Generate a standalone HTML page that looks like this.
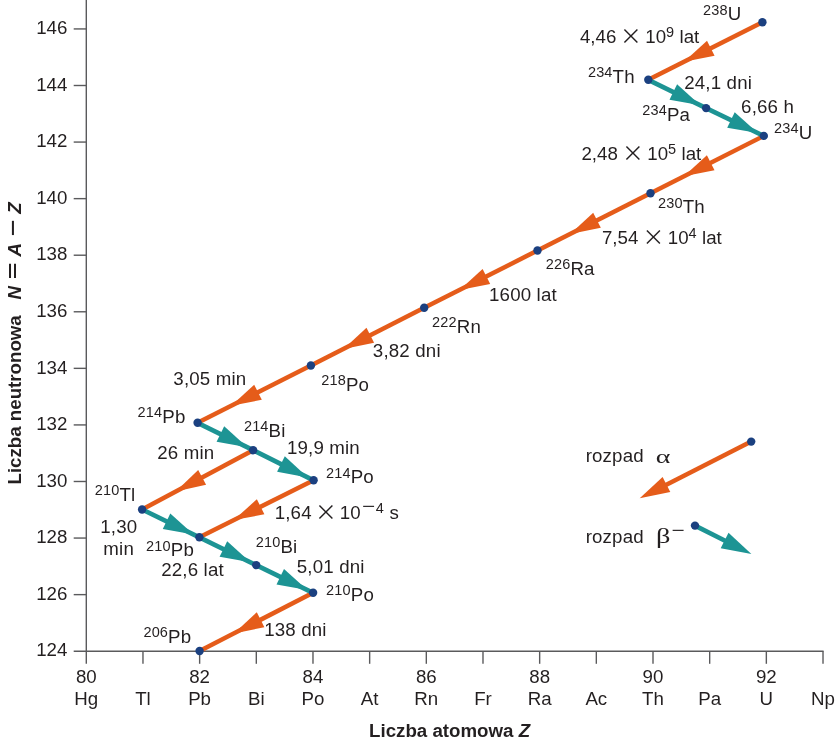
<!DOCTYPE html>
<html lang="pl"><head><meta charset="utf-8"><title>Szereg promieniotwórczy uranu-238</title>
<style>html,body{margin:0;padding:0;background:#fff;overflow:hidden}svg{display:block}text{font-family:"Liberation Sans",Arial,sans-serif}text.gr{font-family:"Liberation Serif","DejaVu Serif",serif}</style></head>
<body><svg width="835" height="744" viewBox="0 0 835 744">
<rect width="835" height="744" fill="#fff"/>
<g stroke="#5a5a5c" stroke-width="1.4" fill="none">
<line x1="86.3" y1="0" x2="86.3" y2="651.2"/>
<line x1="73.7" y1="651.2" x2="823.6" y2="651.2"/>
<line x1="86.30" y1="651.2" x2="86.30" y2="663.8"/>
<line x1="142.97" y1="651.2" x2="142.97" y2="663.8"/>
<line x1="199.64" y1="651.2" x2="199.64" y2="663.8"/>
<line x1="256.31" y1="651.2" x2="256.31" y2="663.8"/>
<line x1="312.98" y1="651.2" x2="312.98" y2="663.8"/>
<line x1="369.65" y1="651.2" x2="369.65" y2="663.8"/>
<line x1="426.32" y1="651.2" x2="426.32" y2="663.8"/>
<line x1="482.99" y1="651.2" x2="482.99" y2="663.8"/>
<line x1="539.66" y1="651.2" x2="539.66" y2="663.8"/>
<line x1="596.33" y1="651.2" x2="596.33" y2="663.8"/>
<line x1="653.00" y1="651.2" x2="653.00" y2="663.8"/>
<line x1="709.67" y1="651.2" x2="709.67" y2="663.8"/>
<line x1="766.34" y1="651.2" x2="766.34" y2="663.8"/>
<line x1="823.01" y1="651.2" x2="823.01" y2="663.8"/>
<line x1="73.7" y1="594.63" x2="86.3" y2="594.63"/>
<line x1="73.7" y1="538.06" x2="86.3" y2="538.06"/>
<line x1="73.7" y1="481.49" x2="86.3" y2="481.49"/>
<line x1="73.7" y1="424.92" x2="86.3" y2="424.92"/>
<line x1="73.7" y1="368.35" x2="86.3" y2="368.35"/>
<line x1="73.7" y1="311.78" x2="86.3" y2="311.78"/>
<line x1="73.7" y1="255.21" x2="86.3" y2="255.21"/>
<line x1="73.7" y1="198.64" x2="86.3" y2="198.64"/>
<line x1="73.7" y1="142.07" x2="86.3" y2="142.07"/>
<line x1="73.7" y1="85.50" x2="86.3" y2="85.50"/>
<line x1="73.7" y1="28.93" x2="86.3" y2="28.93"/>
</g>
<g font-size="18.7" fill="#231f20">
<text x="67.4" y="656.4" text-anchor="end">124</text>
<text x="67.4" y="599.8" text-anchor="end">126</text>
<text x="67.4" y="543.3" text-anchor="end">128</text>
<text x="67.4" y="486.7" text-anchor="end">130</text>
<text x="67.4" y="430.1" text-anchor="end">132</text>
<text x="67.4" y="373.6" text-anchor="end">134</text>
<text x="67.4" y="317.0" text-anchor="end">136</text>
<text x="67.4" y="260.4" text-anchor="end">138</text>
<text x="67.4" y="203.8" text-anchor="end">140</text>
<text x="67.4" y="147.3" text-anchor="end">142</text>
<text x="67.4" y="90.7" text-anchor="end">144</text>
<text x="67.4" y="34.1" text-anchor="end">146</text>
<text x="86.3" y="682.6" text-anchor="middle">80</text>
<text x="86.3" y="704.9" text-anchor="middle">Hg</text>
<text x="143.0" y="704.9" text-anchor="middle">Tl</text>
<text x="199.6" y="682.6" text-anchor="middle">82</text>
<text x="199.6" y="704.9" text-anchor="middle">Pb</text>
<text x="256.3" y="704.9" text-anchor="middle">Bi</text>
<text x="313.0" y="682.6" text-anchor="middle">84</text>
<text x="313.0" y="704.9" text-anchor="middle">Po</text>
<text x="369.7" y="704.9" text-anchor="middle">At</text>
<text x="426.3" y="682.6" text-anchor="middle">86</text>
<text x="426.3" y="704.9" text-anchor="middle">Rn</text>
<text x="483.0" y="704.9" text-anchor="middle">Fr</text>
<text x="539.7" y="682.6" text-anchor="middle">88</text>
<text x="539.7" y="704.9" text-anchor="middle">Ra</text>
<text x="596.3" y="704.9" text-anchor="middle">Ac</text>
<text x="653.0" y="682.6" text-anchor="middle">90</text>
<text x="653.0" y="704.9" text-anchor="middle">Th</text>
<text x="709.7" y="704.9" text-anchor="middle">Pa</text>
<text x="766.3" y="682.6" text-anchor="middle">92</text>
<text x="766.3" y="704.9" text-anchor="middle">U</text>
<text x="823.0" y="704.9" text-anchor="middle">Np</text>
</g>
<text x="369.1" y="736.8" font-size="18.7" font-weight="bold" fill="#231f20">Liczba atomowa <tspan font-style="italic">Z</tspan></text>
<g transform="translate(20.9,484.5) rotate(-90)" font-size="18.7" font-weight="bold" fill="#231f20"><text x="0" y="0">Liczba neutronowa</text><text x="185.0" y="0" font-style="italic">N</text><text transform="translate(206.3,-1.75) scale(1.52,1)" x="-0.75" y="0">=</text><text x="228.0" y="0" font-style="italic">A</text><text transform="translate(249.4,-1.65) scale(1.52,1)" x="-0.75" y="0">−</text><text x="270.8" y="0" font-style="italic">Z</text></g>
<line x1="762.4" y1="22.2" x2="648.3" y2="79.8" stroke="#e55c1a" stroke-width="4.5"/>
<line x1="763.8" y1="135.9" x2="650.5" y2="193.2" stroke="#e55c1a" stroke-width="4.5"/>
<line x1="650.5" y1="193.2" x2="537.5" y2="250.5" stroke="#e55c1a" stroke-width="4.5"/>
<line x1="537.5" y1="250.5" x2="424.2" y2="307.8" stroke="#e55c1a" stroke-width="4.5"/>
<line x1="424.2" y1="307.8" x2="310.9" y2="365.5" stroke="#e55c1a" stroke-width="4.5"/>
<line x1="310.9" y1="365.5" x2="197.6" y2="422.8" stroke="#e55c1a" stroke-width="4.5"/>
<line x1="253.1" y1="450.2" x2="142.1" y2="509.5" stroke="#e55c1a" stroke-width="4.5"/>
<line x1="313.6" y1="480.3" x2="199.4" y2="537.3" stroke="#e55c1a" stroke-width="4.5"/>
<line x1="313.1" y1="592.8" x2="199.6" y2="651.0" stroke="#e55c1a" stroke-width="4.5"/>
<line x1="648.3" y1="79.8" x2="706.1" y2="108.1" stroke="#1d9494" stroke-width="4.7"/>
<line x1="706.1" y1="108.1" x2="763.8" y2="135.9" stroke="#1d9494" stroke-width="4.7"/>
<line x1="197.6" y1="422.8" x2="253.1" y2="450.2" stroke="#1d9494" stroke-width="4.7"/>
<line x1="253.1" y1="450.2" x2="313.6" y2="480.3" stroke="#1d9494" stroke-width="4.7"/>
<line x1="142.1" y1="509.5" x2="199.4" y2="537.3" stroke="#1d9494" stroke-width="4.7"/>
<line x1="199.4" y1="537.3" x2="256.2" y2="565.1" stroke="#1d9494" stroke-width="4.7"/>
<line x1="256.2" y1="565.1" x2="313.1" y2="592.8" stroke="#1d9494" stroke-width="4.7"/>
<polygon points="684.0,61.8 707.0,40.7 714.6,55.7" fill="#e55c1a"/>
<polygon points="683.9,176.3 706.9,155.3 714.5,170.2" fill="#e55c1a"/>
<polygon points="570.2,233.9 593.2,212.8 600.8,227.8" fill="#e55c1a"/>
<polygon points="459.6,289.9 482.6,268.9 490.2,283.9" fill="#e55c1a"/>
<polygon points="343.6,348.9 366.5,327.8 374.1,342.7" fill="#e55c1a"/>
<polygon points="231.2,405.8 254.2,384.8 261.8,399.8" fill="#e55c1a"/>
<polygon points="175.7,491.6 198.2,470.0 206.1,484.8" fill="#e55c1a"/>
<polygon points="233.8,520.1 256.9,499.2 264.4,514.3" fill="#e55c1a"/>
<polygon points="233.9,633.4 256.8,612.2 264.4,627.2" fill="#e55c1a"/>
<polygon points="700.3,105.2 669.5,99.8 677.1,84.3" fill="#1d9494"/>
<polygon points="757.9,133.1 727.2,127.8 734.7,112.3" fill="#1d9494"/>
<polygon points="247.3,447.3 216.6,441.8 224.2,426.3" fill="#1d9494"/>
<polygon points="307.8,477.4 277.1,471.7 284.8,456.3" fill="#1d9494"/>
<polygon points="193.6,534.5 162.8,529.1 170.3,513.6" fill="#1d9494"/>
<polygon points="250.4,562.2 219.6,556.8 227.2,541.3" fill="#1d9494"/>
<polygon points="307.3,590.0 276.5,584.6 284.0,569.1" fill="#1d9494"/>
<line x1="751.2" y1="441.6" x2="657.533831987474" y2="489.14713102698636" stroke="#e55c1a" stroke-width="4.5"/>
<polygon points="639.7,498.2 662.6,477.1 670.3,492.1" fill="#e55c1a"/>
<line x1="695" y1="525.6" x2="733.5368657373647" y2="545.0050884209425" stroke="#1d9494" stroke-width="4.7"/>
<polygon points="751.4,554.0 720.7,548.2 728.5,532.8" fill="#1d9494"/>
<circle cx="762.4" cy="22.2" r="4.2" fill="#1b4080"/>
<circle cx="648.3" cy="79.8" r="4.2" fill="#1b4080"/>
<circle cx="706.1" cy="108.1" r="4.2" fill="#1b4080"/>
<circle cx="763.8" cy="135.9" r="4.2" fill="#1b4080"/>
<circle cx="650.5" cy="193.2" r="4.2" fill="#1b4080"/>
<circle cx="537.5" cy="250.5" r="4.2" fill="#1b4080"/>
<circle cx="424.2" cy="307.8" r="4.2" fill="#1b4080"/>
<circle cx="310.9" cy="365.5" r="4.2" fill="#1b4080"/>
<circle cx="197.6" cy="422.8" r="4.2" fill="#1b4080"/>
<circle cx="253.1" cy="450.2" r="4.2" fill="#1b4080"/>
<circle cx="313.6" cy="480.3" r="4.2" fill="#1b4080"/>
<circle cx="142.1" cy="509.5" r="4.2" fill="#1b4080"/>
<circle cx="199.4" cy="537.3" r="4.2" fill="#1b4080"/>
<circle cx="256.2" cy="565.1" r="4.2" fill="#1b4080"/>
<circle cx="313.1" cy="592.8" r="4.2" fill="#1b4080"/>
<circle cx="199.6" cy="651.0" r="4.2" fill="#1b4080"/>
<circle cx="751.2" cy="441.6" r="4.2" fill="#1b4080"/>
<circle cx="695" cy="525.6" r="4.2" fill="#1b4080"/>
<g font-size="18.7" fill="#231f20" letter-spacing="0.17">
<text x="703.12" y="20.4"><tspan font-size="14.5" dy="-5.8">238</tspan><tspan dy="5.8">U</tspan></text>
<text x="579.90" y="42.8" letter-spacing="0.05">4,46<tspan x="619.95" dy="1" font-family="Noto Sans CJK SC, sans-serif" font-size="21.8">×</tspan><tspan x="645.20" dy="-1">10</tspan><tspan font-size="14.5" dy="-6.2">9</tspan><tspan dy="6.2"> lat</tspan></text>
<text x="587.92" y="83"><tspan font-size="14.5" dy="-5.8">234</tspan><tspan dy="5.8">Th</tspan></text>
<text x="684.20" y="88.9">24,1 dni</text>
<text x="642.22" y="120.9"><tspan font-size="14.5" dy="-5.8">234</tspan><tspan dy="5.8">Pa</tspan></text>
<text x="741.10" y="112.6">6,66 h</text>
<text x="774.02" y="139"><tspan font-size="14.5" dy="-5.8">234</tspan><tspan dy="5.8">U</tspan></text>
<text x="581.40" y="160.4" letter-spacing="0.05">2,48<tspan x="621.95" dy="1" font-family="Noto Sans CJK SC, sans-serif" font-size="21.8">×</tspan><tspan x="647.20" dy="-1">10</tspan><tspan font-size="14.5" dy="-6.2">5</tspan><tspan dy="6.2"> lat</tspan></text>
<text x="658.02" y="213.4"><tspan font-size="14.5" dy="-5.8">230</tspan><tspan dy="5.8">Th</tspan></text>
<text x="601.90" y="243.8" letter-spacing="0.05">7,54<tspan x="642.45" dy="1" font-family="Noto Sans CJK SC, sans-serif" font-size="21.8">×</tspan><tspan x="667.70" dy="-1">10</tspan><tspan font-size="14.5" dy="-6.2">4</tspan><tspan dy="6.2"> lat</tspan></text>
<text x="545.72" y="274.7"><tspan font-size="14.5" dy="-5.8">226</tspan><tspan dy="5.8">Ra</tspan></text>
<text x="489.00" y="300.8">1600 lat</text>
<text x="432.12" y="332.7"><tspan font-size="14.5" dy="-5.8">222</tspan><tspan dy="5.8">Rn</tspan></text>
<text x="372.85" y="357.1">3,82 dni</text>
<text x="321.22" y="390.7"><tspan font-size="14.5" dy="-5.8">218</tspan><tspan dy="5.8">Po</tspan></text>
<text x="173.35" y="385">3,05 min</text>
<text x="137.62" y="423.2"><tspan font-size="14.5" dy="-5.8">214</tspan><tspan dy="5.8">Pb</tspan></text>
<text x="243.92" y="436.5"><tspan font-size="14.5" dy="-5.8">214</tspan><tspan dy="5.8">Bi</tspan></text>
<text x="286.90" y="454.4">19,9 min</text>
<text x="157.20" y="458.6">26 min</text>
<text x="326.02" y="483.3"><tspan font-size="14.5" dy="-5.8">214</tspan><tspan dy="5.8">Po</tspan></text>
<text x="274.70" y="518.6">1,64<tspan x="315.05" dy="1" font-family="Noto Sans CJK SC, sans-serif" font-size="21.8">×</tspan><tspan x="339.80" dy="-1">10</tspan><tspan x="361.92" dy="-5" font-family="Liberation Serif, serif" font-size="23.5">−</tspan><tspan x="375.70" dy="-0.8" font-size="14.5">4</tspan><tspan x="389.40" dy="5.8">s</tspan></text>
<text x="94.82" y="500.8"><tspan font-size="14.5" dy="-5.8">210</tspan><tspan dy="5.8">Tl</tspan></text>
<text x="100.30" y="533">1,30</text>
<text x="103.35" y="554.6">min</text>
<text x="146.12" y="556.4"><tspan font-size="14.5" dy="-5.8">210</tspan><tspan dy="5.8">Pb</tspan></text>
<text x="161.20" y="576.4">22,6 lat</text>
<text x="255.72" y="553.2"><tspan font-size="14.5" dy="-5.8">210</tspan><tspan dy="5.8">Bi</tspan></text>
<text x="296.75" y="572.6">5,01 dni</text>
<text x="326.12" y="600.9"><tspan font-size="14.5" dy="-5.8">210</tspan><tspan dy="5.8">Po</tspan></text>
<text x="264.20" y="636.2">138 dni</text>
<text x="143.42" y="642.8"><tspan font-size="14.5" dy="-5.8">206</tspan><tspan dy="5.8">Pb</tspan></text>
<text x="585.65" y="462">rozpad</text>
<text x="585.65" y="542.5">rozpad</text>
</g>
<text class="gr" transform="translate(655.85,462.6) scale(1.47,1)" font-size="19" fill="#231f20">α</text>
<text class="gr" transform="translate(655.95,543.4) scale(1.33,1)" font-size="21.4" fill="#231f20">β</text>
<text class="gr" x="671.5" y="537.8" font-size="23.5" fill="#231f20">−</text>
</svg></body></html>
